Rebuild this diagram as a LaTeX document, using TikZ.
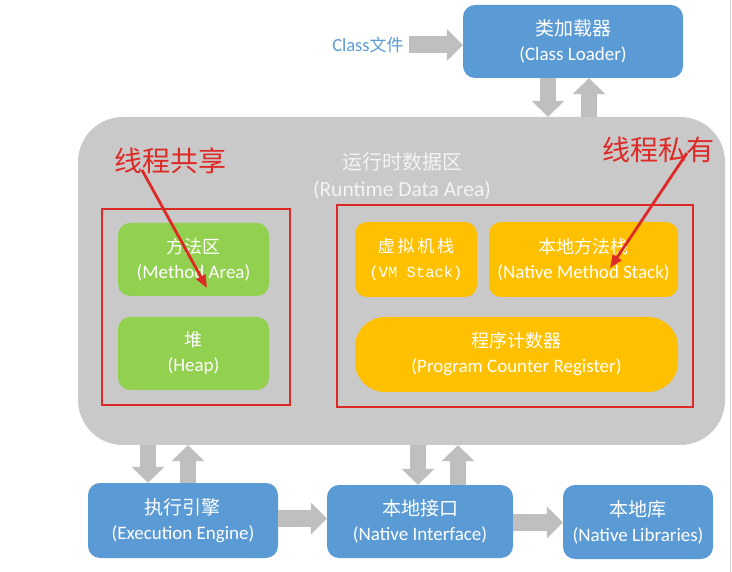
\documentclass[tikz,border=0pt]{standalone}
\usepackage{fontspec}
\setmainfont{Carlito}
\newfontfamily\cjk{Noto Sans CJK SC}
\newfontfamily\monof{Liberation Mono}
\usetikzlibrary{arrows.meta,calc}
\definecolor{boxblue}{HTML}{5B9BD5}
\definecolor{boxgreen}{HTML}{92D050}
\definecolor{boxorange}{HTML}{FFC000}
\definecolor{areagray}{HTML}{C9C9C9}
\definecolor{arrowgray}{HTML}{BFBFBF}
\definecolor{markred}{HTML}{DE2A26}
\definecolor{titlewhite}{HTML}{F4F4F4}
\begin{document}
\begin{tikzpicture}[x=1pt,y=-1pt,
  box/.style={rounded corners=12pt, text=white, align=center, inner sep=0pt,
    font=\fontsize{19}{25}\selectfont},
  bluebox/.style={box, fill=boxblue},
  greenbox/.style={box, fill=boxgreen},
  orangebox/.style={box, fill=boxorange},
  redframe/.style={draw=markred, line width=2.8pt, inner sep=0pt},
  blockh/.style={draw=arrowgray, line width=17pt,
    -{Triangle[length=16pt,width=31pt]}},
  blockv/.style={draw=arrowgray, line width=16pt,
    -{Triangle[length=16pt,width=32pt]}},
  redarrow/.style={draw=markred, line width=2.8pt,
    -{Triangle[length=13pt,width=10pt]}},
  redtext/.style={text=markred, font=\cjk\fontsize{28}{30}\selectfont, inner sep=0pt},
]
\useasboundingbox[fill=white] (0,0) rectangle (732,572);
\draw[draw=black!18, line width=1pt] (730.5,0) -- (730.5,572);

% runtime data area
\node[fill=areagray, rounded corners=45pt, minimum width=647pt, minimum height=328pt, inner sep=0pt]
  (rda) at (401.5,281) {};
\node[text=titlewhite, align=center, inner sep=0pt, font=\fontsize{21.5}{27}\selectfont]
  (rdatitle) at (402,176) {{\cjk\fontsize{20}{27}\selectfont 运行时数据区}\\(Runtime Data Area)};

% class loader
\node[bluebox, minimum width=220pt, minimum height=73pt] (cl) at (573,41.5)
  {{\cjk\fontsize{19}{25}\selectfont 类加载器}\\(Class Loader)};
\node[text=boxblue, inner sep=0pt, font=\fontsize{18.5}{20}\selectfont] (cf) at (368,45)
  {Class{\cjk\fontsize{17}{20}\selectfont 文件}};
\draw[blockh] (cf.east) ++(5pt,0) coordinate (cfs) -- (cfs -| cl.west);

\draw[blockv] ([xshift=-25pt]cl.south) -- ([xshift=-25pt]cl.south |- rda.north);
\draw[blockv] ([xshift=16pt]cl.south |- rda.north) -- ([xshift=16pt]cl.south);

% red frames
\node[redframe, minimum width=188pt, minimum height=196pt] (shared) at (196,307) {};
\node[redframe, minimum width=356pt, minimum height=202pt] (private) at (515,306) {};

% shared areas
\node[greenbox, minimum width=151pt, minimum height=73pt] (ma) at (193.5,259.5)
  {{\cjk\fontsize{18}{25}\selectfont 方法区}\\(Method Area)};
\node[greenbox, minimum width=151pt, minimum height=73pt] (heap) at (193.5,353.5)
  {{\cjk\fontsize{18}{25}\selectfont 堆}\\(Heap)};

% private areas
\node[orangebox, minimum width=122pt, minimum height=75pt] (vm) at (416,259.5)
  {{\cjk\fontsize{17}{25}\selectfont 虚\,拟\,机\,栈}\\{\monof\fontsize{15.5}{25}\selectfont (VM Stack)}};
\node[orangebox, minimum width=189pt, minimum height=75pt] (nms) at (583.5,259.5)
  {{\cjk\fontsize{18}{25}\selectfont 本地方法栈}\\(Native Method Stack)};
\node[orangebox, rounded corners=30pt, minimum width=323pt, minimum height=75pt] (pc) at (516.5,354.5)
  {{\cjk\fontsize{18}{25}\selectfont 程序计数器}\\(Program Counter Register)};

% red labels
\node[redtext] (lshared) at (170,161) {线程共享};
\node[redtext] (lprivate) at (658,150) {线程私有};
\coordinate (s1) at (142,170);
\coordinate (e1) at (207,288);
\coordinate (s2) at (687,153);
\coordinate (e2) at (610,268);
\draw[redarrow] (s1) -- (e1);
\draw[redarrow] (s2) -- (e2);

% bottom row
\node[bluebox, minimum width=190pt, minimum height=75pt] (ee) at (183,520.5)
  {{\cjk\fontsize{19}{25}\selectfont 执行引擎}\\(Execution Engine)};
\node[bluebox, minimum width=186pt, minimum height=73pt] (ni) at (420,521.5)
  {{\cjk\fontsize{19}{25}\selectfont 本地接口}\\(Native Interface)};
\node[bluebox, minimum width=150pt, minimum height=74pt] (nl) at (638,522)
  {{\cjk\fontsize{19}{25}\selectfont 本地库}\\(Native Libraries)};

\draw[blockv] ([xshift=-35pt]ee.north |- rda.south) -- ([xshift=-35pt]ee.north);
\draw[blockv] ([xshift=5pt]ee.north) -- ([xshift=5pt]ee.north |- rda.south);
\draw[blockv] ([xshift=-2pt]ni.north |- rda.south) -- ([xshift=-2pt]ni.north);
\draw[blockv] ([xshift=38pt]ni.north) -- ([xshift=38pt]ni.north |- rda.south);

\draw[blockh] ([yshift=2pt]ee.east) -- ([yshift=2pt]ee.east -| ni.west);
\draw[blockh] ([yshift=-1pt]ni.east) -- ([yshift=-1pt]ni.east -| nl.west);
\end{tikzpicture}
\end{document}
